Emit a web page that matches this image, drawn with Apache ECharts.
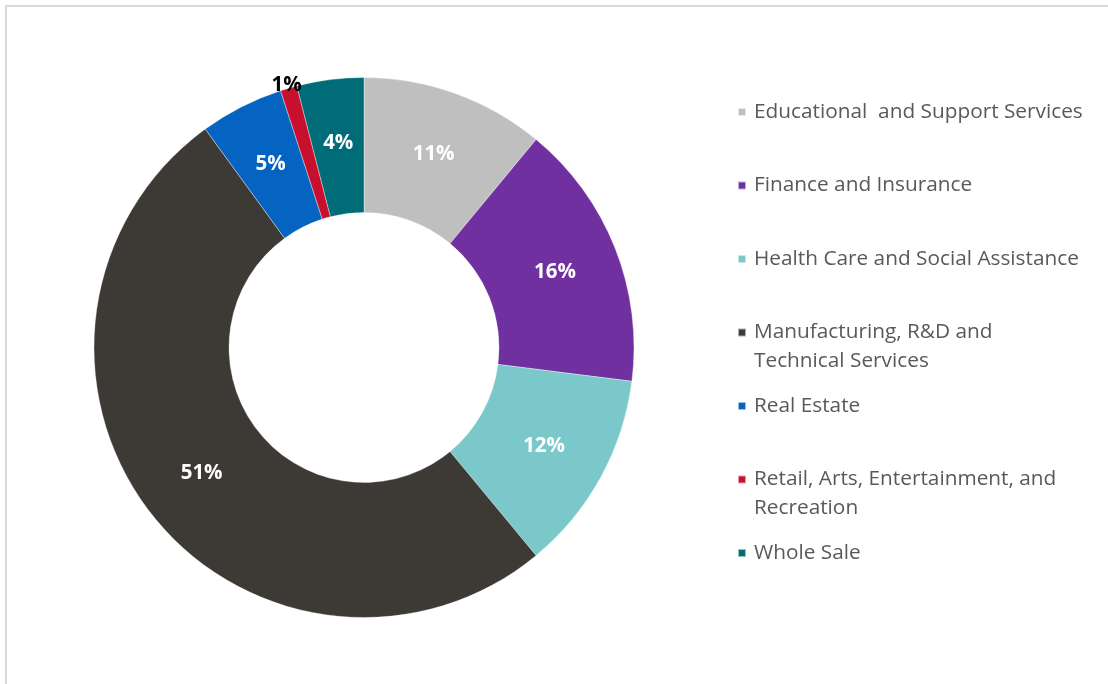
<!DOCTYPE html>
<html>
<head>
<meta charset="utf-8">
<script src="https://cdn.jsdelivr.net/npm/echarts@6/dist/echarts.min.js"></script>
<style>
  html, body { margin: 0; padding: 0; background: #ffffff; }
  #chart { width: 1108px; height: 684px; }
</style>
</head>
<body>
<div id="chart"></div>
<script>
// Share of companies by industry (percent)
const categories = [
  'Educational  and Support Services',
  'Finance and Insurance',
  'Health Care and Social Assistance',
  'Manufacturing, R&D and Technical Services',
  'Real Estate',
  'Retail, Arts, Entertainment, and Recreation',
  'Whole Sale'
];
const shares = [11, 16, 12, 51, 5, 1, 4];

// Legend text, broken into lines the way it wraps on the right
const legendLines = [
  ['Educational  and Support Services'],
  ['Finance and Insurance'],
  ['Health Care and Social Assistance'],
  ['Manufacturing, R&D and', 'Technical Services'],
  ['Real Estate'],
  ['Retail, Arts, Entertainment, and', 'Recreation'],
  ['Whole Sale']
];

const colors = ['#BFBFBF', '#7030A0', '#7AC8C9', '#3D3935', '#0563C1', '#C8102E', '#006C77'];

const FONT = '"Open Sans", "Noto Sans", sans-serif';
const LINE_H = 28.3;        // legend line height
const LEGEND_FIRST = 112;   // centre of first legend marker
const LEGEND_STEP = 73.5;   // distance between legend markers

const legends = categories.map(function (name, i) {
  const lines = legendLines[i];
  const multi = lines.length > 1;
  const centre = LEGEND_FIRST + i * LEGEND_STEP;
  return {
    data: [name],
    orient: 'vertical',
    left: 737,
    // a multi-line entry gets a blank lead line so its first line sits beside the marker
    top: centre - (multi ? 1.5 : 0.5) * LINE_H,
    padding: 0,
    icon: 'rect',
    itemWidth: 8,
    itemHeight: 8,
    selectedMode: false,
    formatter: function () {
      return multi ? '\n' + lines.join('\n') : lines[0];
    },
    textStyle: {
      fontFamily: FONT,
      fontSize: 20.8,
      color: '#595959',
      lineHeight: LINE_H,
      padding: [0, 0, 0, 3]
    }
  };
});

const chart = echarts.init(document.getElementById('chart'), null, { renderer: 'canvas' });

chart.setOption({
  backgroundColor: '#ffffff',
  animation: false,
  color: colors,
  graphic: [{
    type: 'rect',
    shape: { x: 6, y: 6, width: 1120, height: 700 },
    style: { fill: 'none', stroke: '#D9D9D9', lineWidth: 2 },
    silent: true,
    z: -10
  }],
  legend: legends,
  series: [{
    type: 'pie',
    center: [364, 347.5],
    radius: [135, 270],
    startAngle: 90,
    clockwise: true,
    avoidLabelOverlap: false,
    emphasis: { disabled: true },
    itemStyle: { borderColor: 'rgba(255,255,255,0.6)', borderWidth: 0.6 },
    label: {
      show: true,
      position: 'inside',
      fontFamily: FONT,
      fontWeight: 'bold',
      fontSize: 20.5,
      color: '#ffffff',
      formatter: function (p) { return Math.round(p.percent) + '%'; }
    },
    labelLine: { show: false },
    // the thin retail slice carries its label just past the outer rim, in black
    labelLayout: function (p) {
      if (p.dataIndex === 5) return { dx: -20, dy: -65 };
      return {};
    },
    data: categories.map(function (name, i) {
      const item = { name: name, value: shares[i] };
      if (i === 5) item.label = { color: '#000000' };
      return item;
    })
  }]
});
</script>
</body>
</html>
